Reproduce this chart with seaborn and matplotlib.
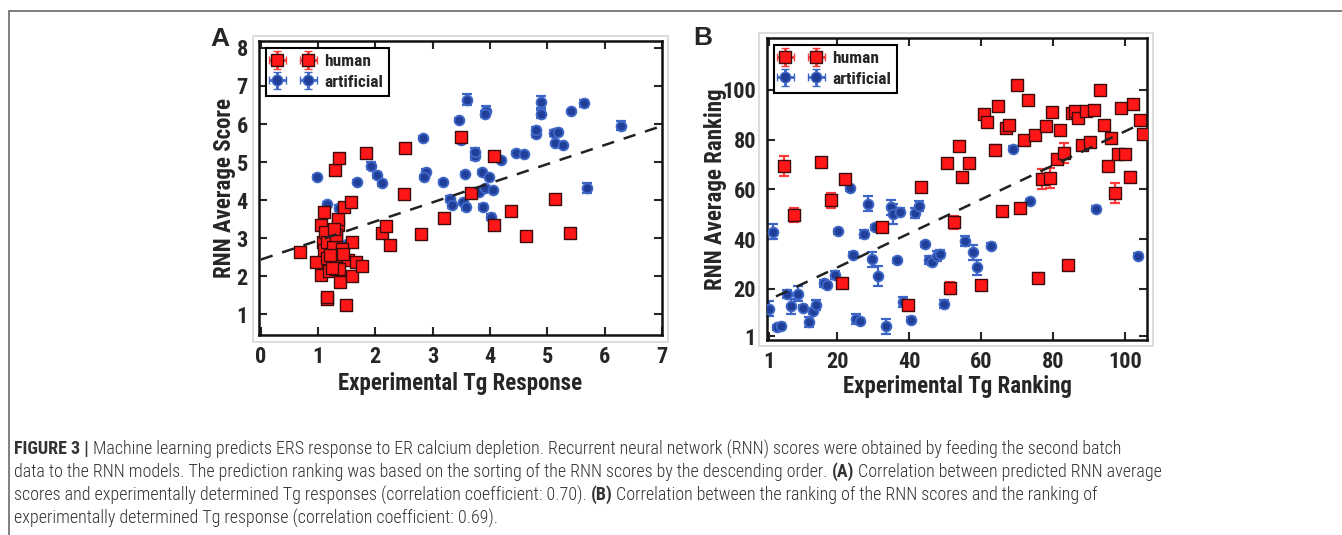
import matplotlib.pyplot as plt
import seaborn as sns
import numpy as np
from matplotlib.lines import Line2D
from matplotlib.patches import Rectangle

sns.set_style("ticks")
plt.rcParams['font.family'] = ['Roboto Condensed', 'Liberation Sans', 'DejaVu Sans']

# ---- Panel A: RNN average score vs experimental Tg response ----
a_human_x = [0.68, 0.97, 1.06, 1.06, 1.08, 1.10, 1.10, 1.12, 1.15, 1.15, 1.16, 1.19, 1.29, 1.31,
             1.32, 1.32, 1.35, 1.35, 1.30, 1.37, 1.38, 1.39, 1.45, 1.48, 1.52, 1.57, 1.59, 1.59,
             1.67, 1.77, 1.83, 2.12, 2.18, 2.25, 2.50, 2.52, 2.80, 3.20, 3.49, 3.66, 4.07, 4.07,
             4.37, 4.62, 5.14, 5.39, 1.15, 1.26, 1.41, 1.26, 1.37, 1.31, 1.21, 1.44, 1.24, 1.28]
a_human_y = [2.63, 2.37, 3.36, 2.03, 2.91, 3.68, 2.68, 3.16, 2.48, 1.40, 1.47, 2.15, 2.39, 2.18,
             2.61, 3.00, 3.34, 3.51, 4.80, 5.12, 2.69, 1.86, 3.81, 1.26, 2.43, 3.96, 2.91, 2.00,
             2.37, 2.26, 5.23, 3.13, 3.32, 2.82, 4.15, 5.38, 3.10, 3.53, 5.66, 4.18, 5.17, 3.36,
             3.72, 3.06, 4.02, 3.15, 2.91, 2.78, 2.73, 2.39, 2.20, 3.08, 2.55, 2.58, 2.22, 3.25]
a_human_err = [0.05, 0.05, 0.05, 0.05, 0.05, 0.08, 0.05, 0.05, 0.05, 0.08, 0.05, 0.05, 0.05, 0.05,
               0.05, 0.05, 0.05, 0.08, 0.05, 0.08, 0.05, 0.05, 0.05, 0.05, 0.05, 0.05, 0.05, 0.05,
               0.05, 0.08, 0.05, 0.05, 0.05, 0.05, 0.05, 0.08, 0.05, 0.05, 0.05, 0.05, 0.08, 0.05,
               0.05, 0.05, 0.08, 0.10, 0.05, 0.05, 0.05, 0.05, 0.05, 0.05, 0.05, 0.05, 0.05, 0.05]

a_art_x = [0.98, 1.15, 1.37, 1.50, 1.68, 1.93, 2.03, 2.12, 2.83, 2.88, 2.85, 3.18, 3.30, 3.33,
           3.46, 3.50, 3.53, 3.56, 3.58, 3.59, 3.73, 3.73, 3.80, 3.86, 3.88, 3.91, 3.93, 3.91,
           3.98, 4.02, 4.05, 4.20, 4.46, 4.59, 4.80, 4.81, 4.89, 4.89, 5.11, 5.18, 5.13, 5.27,
           5.42, 5.64, 5.70, 6.29]
a_art_y = [4.60, 3.89, 3.79, 2.85, 4.48, 4.91, 4.67, 4.45, 5.64, 4.74, 4.61, 4.48, 4.02, 3.87,
           6.11, 5.59, 3.94, 4.69, 3.81, 6.64, 5.16, 5.26, 4.21, 4.75, 3.81, 4.32, 6.35, 6.26,
           4.60, 3.55, 4.27, 5.06, 5.23, 5.20, 5.75, 5.83, 6.58, 6.26, 5.76, 5.79, 5.49, 5.45,
           6.33, 6.54, 4.32, 5.96]
a_art_err = [0.05, 0.05, 0.08, 0.05, 0.05, 0.08, 0.08, 0.08, 0.05, 0.08, 0.05, 0.05, 0.08, 0.08,
             0.05, 0.08, 0.05, 0.05, 0.08, 0.15, 0.10, 0.10, 0.05, 0.05, 0.08, 0.05, 0.12, 0.08,
             0.05, 0.08, 0.05, 0.05, 0.05, 0.05, 0.08, 0.08, 0.15, 0.10, 0.08, 0.08, 0.05, 0.05,
             0.05, 0.08, 0.12, 0.12]

a_fit_x = [0.0, 7.0]
a_fit_y = [2.44, 5.95]

# ---- Panel B: RNN average ranking vs experimental Tg ranking ----
b_human_x = [5.3, 8.1, 15.4, 18.2, 21.5, 22.2, 32.5, 39.6, 43.3, 50.6, 51.5, 52.6, 53.9, 54.8,
             56.7, 59.9, 60.9, 61.6, 63.9, 64.8, 65.8, 67.0, 67.7, 70.0, 70.9, 72.0, 73.1, 75.0,
             75.9, 77.0, 78.1, 79.2, 79.9, 81.1, 82.0, 83.2, 84.1, 85.3, 86.1, 87.0, 88.1, 89.2,
             90.3, 91.4, 93.1, 94.2, 95.4, 96.3, 97.3, 98.0, 99.1, 100.1, 101.4, 102.3, 104.2, 105.2]
b_human_y = [69.3, 49.7, 70.9, 55.6, 22.4, 64.3, 44.7, 13.7, 61.1, 70.4, 20.3, 46.7, 77.6, 65.1,
             70.4, 21.6, 90.4, 86.9, 75.7, 93.3, 51.3, 84.7, 85.7, 102.0, 52.7, 79.7, 96.0, 82.0,
             24.3, 64.0, 85.3, 64.7, 90.9, 72.4, 84.0, 74.7, 29.6, 90.7, 91.3, 88.7, 78.0, 91.3,
             79.1, 91.7, 100.0, 85.7, 69.3, 80.7, 58.4, 74.4, 92.7, 74.4, 65.1, 94.3, 87.7, 82.4]
b_human_err = [4.0, 3.0, 1.0, 3.0, 1.0, 1.0, 1.0, 1.0, 1.0, 1.5, 2.5, 2.5, 1.0, 1.5,
               1.5, 1.5, 1.5, 1.5, 2.0, 1.5, 1.0, 1.5, 1.5, 1.0, 1.0, 1.0, 1.0, 1.5,
               2.0, 4.0, 1.0, 4.0, 1.0, 2.0, 1.0, 4.0, 1.0, 1.0, 1.5, 1.0, 1.5, 1.0,
               1.0, 1.0, 1.5, 1.0, 1.5, 1.0, 4.0, 1.5, 1.0, 1.5, 2.0, 1.0, 1.5, 1.5]

b_art_x = [1.0, 2.2, 3.3, 4.3, 6.1, 7.1, 9.2, 10.4, 12.1, 13.2, 14.2, 16.3, 17.2, 19.3, 20.2,
           23.6, 24.3, 25.2, 26.4, 27.4, 28.5, 29.6, 30.6, 31.5, 33.5, 34.9, 35.5, 36.7, 37.4,
           38.4, 40.5, 41.8, 42.9, 44.5, 45.6, 46.5, 47.7, 48.7, 49.6, 55.5, 57.8, 58.8, 62.8,
           68.9, 73.7, 91.9, 103.6]
b_art_y = [12.0, 43.0, 4.7, 5.3, 18.0, 13.1, 18.0, 12.4, 6.7, 11.1, 13.6, 22.3, 21.6, 25.6, 43.1,
           60.4, 33.7, 8.0, 7.3, 42.0, 54.3, 32.0, 44.7, 25.1, 5.1, 52.9, 50.0, 31.6, 51.1,
           14.9, 7.7, 50.7, 53.3, 38.0, 31.6, 30.7, 33.1, 34.0, 14.0, 39.3, 34.7, 28.7, 37.3,
           76.3, 55.3, 52.3, 33.3]
b_art_err = [3.0, 3.0, 1.0, 1.0, 1.5, 3.0, 3.0, 1.0, 2.0, 1.0, 2.0, 1.5, 1.0, 1.5, 1.0,
             1.0, 1.0, 2.0, 1.0, 1.5, 3.0, 3.0, 1.0, 4.0, 3.0, 3.0, 4.0, 1.0, 1.5,
             2.0, 1.0, 2.0, 2.0, 1.0, 1.5, 1.0, 2.0, 1.5, 1.5, 2.0, 3.0, 3.0, 1.0,
             1.0, 1.0, 1.0, 1.0]

b_fit_x = [3.0, 103.0]
b_fit_y = [17.0, 85.3]

a_ticks_x = [0, 1, 2, 3, 4, 5, 6, 7]
a_ticks_y = [1, 2, 3, 4, 5, 6, 7, 8]
b_ticks_x = [1, 20, 40, 60, 80, 100]
b_ticks_y = [1, 20, 40, 60, 80, 100]

RED = '#ff1616'
RED_EDGE = '#3c0c0c'
RED_ERR = '#ff3a3a'
BLUE = '#203f98'
BLUE_EDGE = '#4068c8'
BLUE_ERR = '#3e66c8'
NARROW = ['Roboto Condensed', 'Liberation Sans', 'DejaVu Sans']

W, H = 1342, 535
fig = plt.figure(figsize=(W / 100, H / 100), dpi=100)


def fbox(x0, y0, x1, y1):
    # pixel box (top-left origin) -> figure fraction rect
    return [x0 / W, 1 - y1 / H, (x1 - x0) / W, (y1 - y0) / H]


def panel(rect, hx, hy, he, ax_x, ax_y, ae, fx, fy, xlim, ylim, xt, yt,
          xlabel, ylabel, xerr_leg, xpad, ypad):
    ax = fig.add_axes(rect)
    ax.errorbar(ax_x, ax_y, yerr=ae, fmt='none', ecolor=BLUE_ERR, elinewidth=1.6,
                capsize=3.5, capthick=1.6, zorder=2)
    sns.scatterplot(x=ax_x, y=ax_y, marker='o', s=50, color=BLUE, edgecolor=BLUE_EDGE,
                    linewidth=1.3, ax=ax, zorder=3, legend=False)
    ax.errorbar(hx, hy, yerr=he, fmt='none', ecolor=RED_ERR, elinewidth=1.6,
                capsize=3.5, capthick=1.6, zorder=4)
    sns.scatterplot(x=hx, y=hy, marker='s', s=66, color=RED, edgecolor=RED_EDGE,
                    linewidth=1.0, ax=ax, zorder=5, legend=False)
    sns.lineplot(x=fx, y=fy, color='#222222', linestyle=(0, (5, 4)), linewidth=1.8,
                 ax=ax, zorder=6)

    # legend proxies with error caps in both directions
    ph = ax.errorbar([np.nan], [np.nan], xerr=[xerr_leg], yerr=[1], fmt='s', ms=8,
                     mfc=RED, mec=RED_EDGE, ecolor=RED_ERR, elinewidth=2, capsize=3,
                     label='human')
    pa = ax.errorbar([np.nan], [np.nan], xerr=[xerr_leg], yerr=[1], fmt='o', ms=7.5,
                     mfc=BLUE, mec=BLUE_EDGE, ecolor=BLUE_ERR, elinewidth=2, capsize=3,
                     label='artificial')
    leg = ax.legend(handles=[ph, pa], loc='upper left', numpoints=2, handlelength=2.4,
                    handletextpad=0.6, borderpad=0.35, labelspacing=0.3,
                    borderaxespad=0.4, fancybox=False, framealpha=1,
                    prop={'family': NARROW, 'weight': 'bold', 'size': 12.5})
    leg.get_frame().set_edgecolor('black')
    leg.get_frame().set_linewidth(1.5)

    ax.set_xlim(xlim)
    ax.set_ylim(ylim)
    ax.set_xticks(xt)
    ax.set_yticks(yt)
    ax.tick_params(direction='in', length=6, width=1.5, top=True, right=True,
                   labeltop=False, labelright=False, labelsize=16, pad=8)
    for lab in ax.get_xticklabels() + ax.get_yticklabels():
        lab.set_fontweight('bold')
        lab.set_family(NARROW)
    for sp in ax.spines.values():
        sp.set_linewidth(1.8)
        sp.set_color('#111111')
    ax.set_xlabel(xlabel, fontsize=16.5, fontweight='bold', family=NARROW, labelpad=xpad)
    ax.set_ylabel(ylabel, fontsize=16.5, fontweight='bold', family=NARROW, labelpad=ypad)
    return ax


axA = panel(fbox(259, 41, 662, 335), a_human_x, a_human_y, a_human_err,
            a_art_x, a_art_y, a_art_err, a_fit_x, a_fit_y,
            (-0.03, 7.0), (0.46, 8.18), a_ticks_x, a_ticks_y,
            'Experimental Tg Response', 'RNN Average Score', 0.15, 2.5, 0.5)
axB = panel(fbox(767, 38, 1147, 340), b_human_x, b_human_y, b_human_err,
            b_art_x, b_art_y, b_art_err, b_fit_x, b_fit_y,
            (0.5, 106.2), (-0.5, 120.8), b_ticks_x, b_ticks_y,
            'Experimental Tg Ranking', 'RNN Average Ranking', 2.0, 1.0, -3.5)

# light gray outer frames around each panel
for x0, y0, x1, y1 in [(253, 36, 668, 342), (759, 33, 1153, 346)]:
    fig.add_artist(Rectangle((x0 / W, 1 - y1 / H), (x1 - x0) / W, (y1 - y0) / H,
                             transform=fig.transFigure, fill=False,
                             edgecolor='#d6d6d6', linewidth=1.2))

# panel letters
fig.text(220 / W, 1 - 39 / H, 'A', fontsize=19, fontweight='bold', ha='center', va='center',
         family=['Liberation Sans', 'DejaVu Sans'])
fig.text(703 / W, 1 - 38 / H, 'B', fontsize=19, fontweight='bold', ha='center', va='center',
         family=['Liberation Sans', 'DejaVu Sans'])

# page frame
fig.add_artist(Line2D([9.3 / W, 1.0], [1 - 10.7 / H, 1 - 10.7 / H], transform=fig.transFigure,
                      color='#6a6a6a', linewidth=1.2))
fig.add_artist(Line2D([9.3 / W, 9.3 / W], [0.0, 1 - 10.7 / H], transform=fig.transFigure,
                      color='#6a6a6a', linewidth=1.2))

# caption, with bold runs
caption_lines = [
    [('FIGURE 3 |', 'bold'),
     (' Machine learning predicts ERS response to ER calcium depletion. Recurrent neural network (RNN) '
      'scores were obtained by feeding the second batch', 'light')],
    [('data to the RNN models. The prediction ranking was based on the sorting of the RNN scores by '
      'the descending order. ', 'light'), ('(A)', 'bold'),
     (' Correlation between predicted RNN average', 'light')],
    [('scores and experimentally determined Tg responses (correlation coefficient: 0.70). ', 'light'),
     ('(B)', 'bold'),
     (' Correlation between the ranking of the RNN scores and the ranking of', 'light')],
    [('experimentally determined Tg response (correlation coefficient: 0.69).', 'light')],
]
caption_y = [449, 472, 495, 518]

renderer = fig.canvas.get_renderer()
for segs, ypix in zip(caption_lines, caption_y):
    xpix = 14
    for s, wt in segs:
        t = fig.text(xpix / W, 1 - ypix / H, s, fontsize=13, fontweight=wt, color='#333333',
                     ha='left', va='center', family=NARROW)
        bb = t.get_window_extent(renderer)
        xpix = bb.x1

fig.savefig('out.png', dpi=100)
